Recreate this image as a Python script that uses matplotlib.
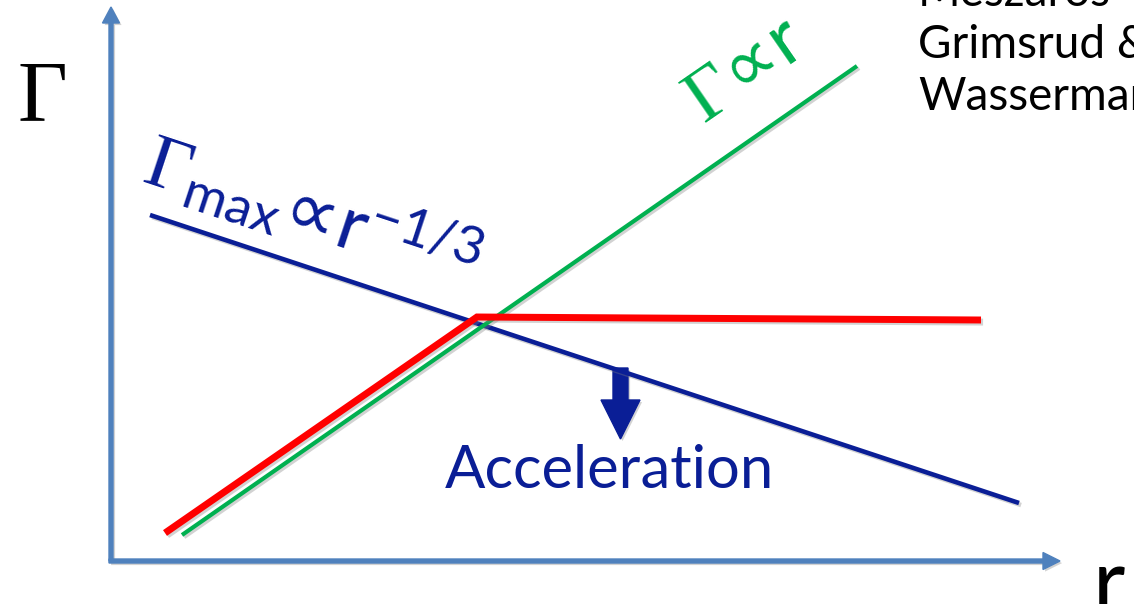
import matplotlib
matplotlib.use("Agg")
import matplotlib.pyplot as plt
import matplotlib.patheffects as pe
from matplotlib.patches import FancyArrow

plt.rcParams["mathtext.fontset"] = "custom"
plt.rcParams["mathtext.rm"] = "Liberation Serif"
plt.rcParams["mathtext.it"] = "Liberation Serif:italic"
plt.rcParams["mathtext.sf"] = "Lato"
plt.rcParams["mathtext.bf"] = "DejaVu Sans"  # used for the sans proportional sign

# sketch coordinates (pixel-like units, y grows downward)
gamma_max_x = [150, 1019]
gamma_max_y = [215, 503]
linear_x = [182, 857]
linear_y = [535, 66]
coasting_x = [165, 477, 981]
coasting_y = [533, 317, 320]

refs = ["Mészáros", "Grimsrud &", "Wasserman"]

navy = "#0A1E96"
green = "#00B050"
red = "#FF0000"
axis_blue = "#4F81BD"

fig = plt.figure(figsize=(11.34, 6.04), dpi=100)
ax = fig.add_axes([0, 0, 1, 1])
ax.set_xlim(0, 1134)
ax.set_ylim(604, 0)
ax.axis("off")

shadow = [pe.SimpleLineShadow(offset=(1.5, -1.5), shadow_color="gray", alpha=0.35), pe.Normal()]
pshadow = [pe.SimplePatchShadow(offset=(1.5, -1.5), shadow_rgbFace="gray", alpha=0.35), pe.Normal()]

# axes drawn as arrows
ax.add_patch(FancyArrow(111, 561, 0, -554, width=4, head_width=17, head_length=16,
                        length_includes_head=True, color=axis_blue, path_effects=pshadow))
ax.add_patch(FancyArrow(109, 561, 951, 0, width=4, head_width=17, head_length=17,
                        length_includes_head=True, color=axis_blue, path_effects=pshadow))

ax.plot(gamma_max_x, gamma_max_y, color=navy, lw=3.3, solid_capstyle="butt", path_effects=shadow)
ax.plot(linear_x, linear_y, color=green, lw=3.0, solid_capstyle="butt", path_effects=shadow)
ax.plot(coasting_x, coasting_y, color=red, lw=5.0, solid_capstyle="butt",
        solid_joinstyle="miter", path_effects=shadow)

# acceleration arrow below the Gamma_max line
ax.add_patch(FancyArrow(620.5, 368, 0, 71, width=15, head_width=39, head_length=39,
                        length_includes_head=True, color=navy, path_effects=pshadow))
ax.text(445, 488, "Acceleration", family="Lato", fontsize=43, color=navy,
        ha="left", va="baseline")

ax.text(140, 181, r"$\Gamma_{\mathsf{max}}\!\mathbf{\propto}\!\mathsf{r}^{\mathsf{-1/3}}$",
        fontsize=55, color=navy, rotation=-18.3, rotation_mode="anchor",
        ha="left", va="baseline")
ax.text(704, 124, r"$\Gamma\!\mathbf{\propto}\!\mathsf{r}$", fontsize=54, color=green,
        rotation=34.6, rotation_mode="anchor", ha="left", va="baseline")

ax.text(17, 120, "Γ", family="Liberation Serif", fontsize=62, color="black",
        ha="left", va="baseline")
ax.text(1093, 612, "r", family="Lato", fontsize=64, color="black",
        ha="left", va="baseline")

for i, name in enumerate(refs):
    ax.text(918, 6 + 52 * i, name, family="Lato", fontsize=33, color="black",
            ha="left", va="baseline")

fig.savefig("out.png", dpi=100)
